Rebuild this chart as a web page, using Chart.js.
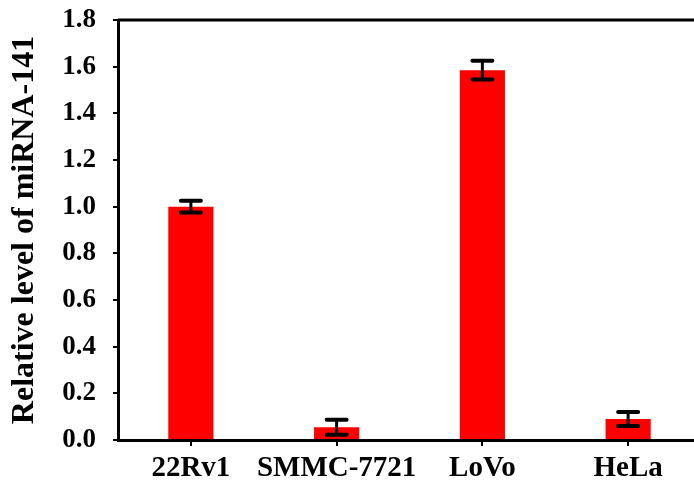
<!DOCTYPE html>
<html>
<head>
<meta charset="utf-8">
<script src="https://cdn.jsdelivr.net/npm/chart.js@4/dist/chart.umd.min.js"></script>
<style>
  html, body { margin: 0; padding: 0; background: #fff; overflow: hidden; }
  #wrap { width: 712px; height: 487px; }
</style>
</head>
<body>
<div id="wrap"><canvas id="c" width="712" height="487"></canvas></div>
<script>
// ─── Data ─────────────────────────────────────────────────────────────────────
const cellLines = ['22Rv1', 'SMMC-7721', 'LoVo', 'HeLa'];
const levels    = [1.00, 0.055, 1.585, 0.09];
const errors    = [0.025, 0.032, 0.04, 0.03];
const yTicks    = [0, 0.2, 0.4, 0.6, 0.8, 1.0, 1.2, 1.4, 1.6, 1.8];

const FONT = "'Liberation Serif', 'Times New Roman', serif";

// ─── Plugins ──────────────────────────────────────────────────────────────────

// top/right frame lines (left + bottom come from the scale borders)
const frame = {
  id: 'frame',
  afterDraw(chart) {
    const { ctx, chartArea: a } = chart;
    ctx.save();
    ctx.strokeStyle = '#000';
    ctx.lineWidth = 3;
    ctx.beginPath();
    ctx.moveTo(a.left, a.top);
    ctx.lineTo(a.right, a.top);
    ctx.lineTo(a.right, a.bottom);
    ctx.stroke();
    ctx.restore();
  },
};

// error bars: vertical line + caps, positioned through the scales
const errorBars = {
  id: 'errorBars',
  afterDatasetsDraw(chart) {
    const { ctx, scales: { x, y } } = chart;
    ctx.save();
    ctx.strokeStyle = '#000';
    ctx.lineCap = 'round';
    levels.forEach((v, i) => {
      const px  = x.getPixelForValue(i);
      const top = y.getPixelForValue(v + errors[i]);
      const bot = y.getPixelForValue(v - errors[i]);
      ctx.lineWidth = 3;
      ctx.beginPath();
      ctx.moveTo(px, top);
      ctx.lineTo(px, bot);
      ctx.stroke();
      ctx.lineWidth = 4;
      ctx.beginPath();
      ctx.moveTo(px - 10, top); ctx.lineTo(px + 10, top);
      ctx.moveTo(px - 10, bot); ctx.lineTo(px + 10, bot);
      ctx.stroke();
    });
    ctx.restore();
  },
};

// ─── Chart ────────────────────────────────────────────────────────────────────

const chart = new Chart(document.getElementById('c'), {
  type: 'bar',
  data: {
    labels: cellLines,
    datasets: [{
      data: levels,
      backgroundColor: '#ff0000',
      borderWidth: 0,
      barPercentage: 0.31,
      categoryPercentage: 1,
    }],
  },
  options: {
    responsive: false,
    animation: false,
    layout: { padding: { top: 20, right: 11, left: 0, bottom: 0 } },
    plugins: { legend: { display: false }, tooltip: { enabled: false } },
    scales: {
      x: {
        offset: true,
        grid: {
          offset: false,
          drawOnChartArea: false,
          drawTicks: true,
          tickLength: 6,
          color: '#000',
          lineWidth: 2,
        },
        border: { display: true, color: '#000', width: 3, z: 1 },
        ticks: {
          color: '#000',
          padding: 5,
          autoSkip: false,
          maxRotation: 0,
          font: { family: FONT, size: 29, weight: 'bold' },
        },
        afterFit(s) { s.height = 47; s.paddingLeft = 0; s.paddingRight = 0; },
      },
      y: {
        min: 0,
        max: 1.8,
        afterBuildTicks(s) { s.ticks = yTicks.map(v => ({ value: v })); },
        grid: {
          drawOnChartArea: false,
          drawTicks: true,
          tickLength: 5,
          color: '#000',
          lineWidth: 2,
        },
        border: { display: true, color: '#000', width: 3, z: 1 },
        ticks: {
          color: '#000',
          padding: 17,
          callback: v => Number(v).toFixed(1),
          font: { family: FONT, size: 27, weight: 'bold' },
        },
        title: {
          display: true,
          text: 'Relative level of miRNA-141',
          color: '#000',
          padding: { top: 6, bottom: 0 },
          font: { family: FONT, size: 32, weight: 'bold' },
        },
        afterFit(s) { s.width = 118; s.paddingTop = 0; s.paddingBottom = 0; },
      },
    },
  },
  plugins: [frame, errorBars],
});
</script>
</body>
</html>
